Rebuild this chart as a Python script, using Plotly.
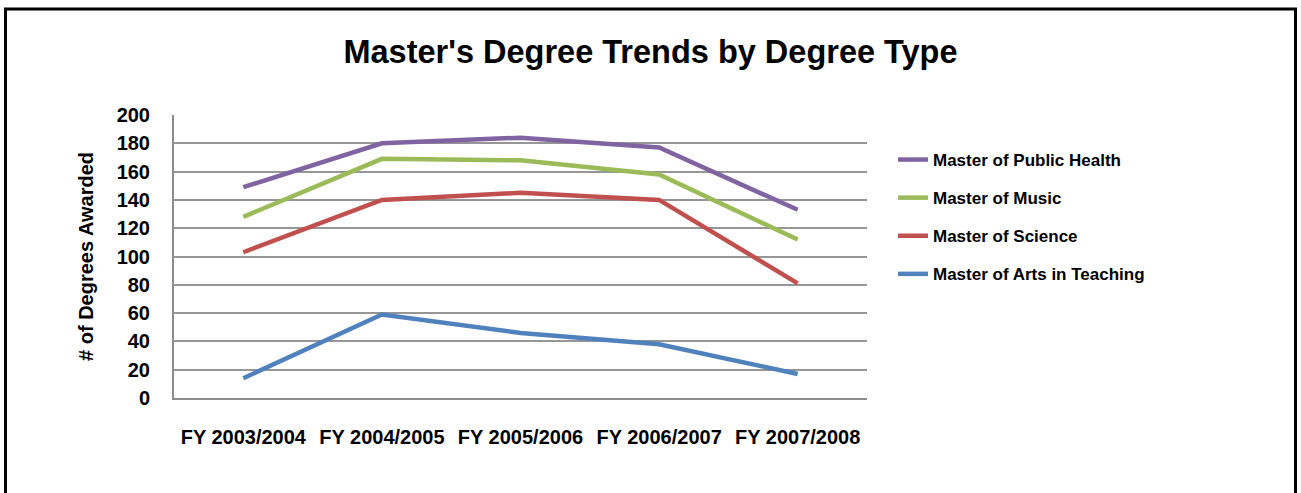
import plotly.graph_objects as go

# Fiscal years on the category axis
years = ["FY 2003/2004", "FY 2004/2005", "FY 2005/2006", "FY 2006/2007", "FY 2007/2008"]

# Degrees awarded per fiscal year, by degree type
public_health = [149, 180, 184, 177, 133]
music = [128, 169, 168, 158, 112]
science = [103, 140, 145, 140, 81]
arts_teaching = [14, 59, 46, 38, 17]

series = [
    ("Master of Public Health", public_health, "#8064A2"),
    ("Master of Music", music, "#9BBB59"),
    ("Master of Science", science, "#C0504D"),
    ("Master of Arts in Teaching", arts_teaching, "#4F81BD"),
]

FONT = "Liberation Sans, Arial, sans-serif"

fig = go.Figure()
for name, values, color in series:
    fig.add_trace(go.Scatter(
        x=years, y=values, name=name, mode="lines",
        legendgroup=name,
        line=dict(color=color, width=4.5),
    ))

W, H = 1301, 493
L, R, T, B = 174, 434, 115, 95
pw, ph = W - L - R, H - T - B

def px_x(v):
    return (v - L) / pw

def px_y(v):
    return (H - B - v) / ph

fig.update_layout(
    width=W, height=H,
    margin=dict(l=L, r=R, t=T, b=B, autoexpand=False),
    paper_bgcolor="white", plot_bgcolor="white",
    font=dict(family=FONT, color="black"),
    title=dict(
        text="Master's Degree Trends by Degree Type",
        x=0.5, xref="container", xanchor="center",
        y=1 - 52 / H, yref="container", yanchor="middle",
        font=dict(size=32.5, family=FONT, color="black", weight="bold"),
    ),
    xaxis=dict(
        type="category", range=[-0.5, 4.5], automargin=False,
        showgrid=False, showline=True, linecolor="#8C8C8C", linewidth=2,
        ticks="", tickangle=0, ticklabelstandoff=20,
        tickfont=dict(size=20, family=FONT, color="black", weight="bold"),
    ),
    yaxis=dict(
        range=[0, 200], dtick=20, tick0=0, automargin=False,
        showgrid=True, gridcolor="#969696", gridwidth=2,
        showline=True, linecolor="#8C8C8C", linewidth=2,
        zeroline=False, ticks="", ticklabelstandoff=18,
        tickfont=dict(size=20, family=FONT, color="black", weight="bold"),
        title=dict(text="# of Degrees Awarded", standoff=18,
                   font=dict(size=20, family=FONT, color="black", weight="bold")),
    ),
    legend=dict(
        x=px_x(893), xanchor="left", y=px_y(142), yanchor="top",
        traceorder="grouped", tracegroupgap=13,
        font=dict(size=17, family=FONT, color="black", weight="bold"),
        bgcolor="rgba(0,0,0,0)",
    ),
    shapes=[dict(
        type="rect", xref="paper", yref="paper",
        x0=px_x(5.5), x1=px_x(1295.5), y0=px_y(505), y1=px_y(9),
        line=dict(color="black", width=3), fillcolor="rgba(0,0,0,0)",
        layer="above",
    )],
)

fig.write_html("out.html")
